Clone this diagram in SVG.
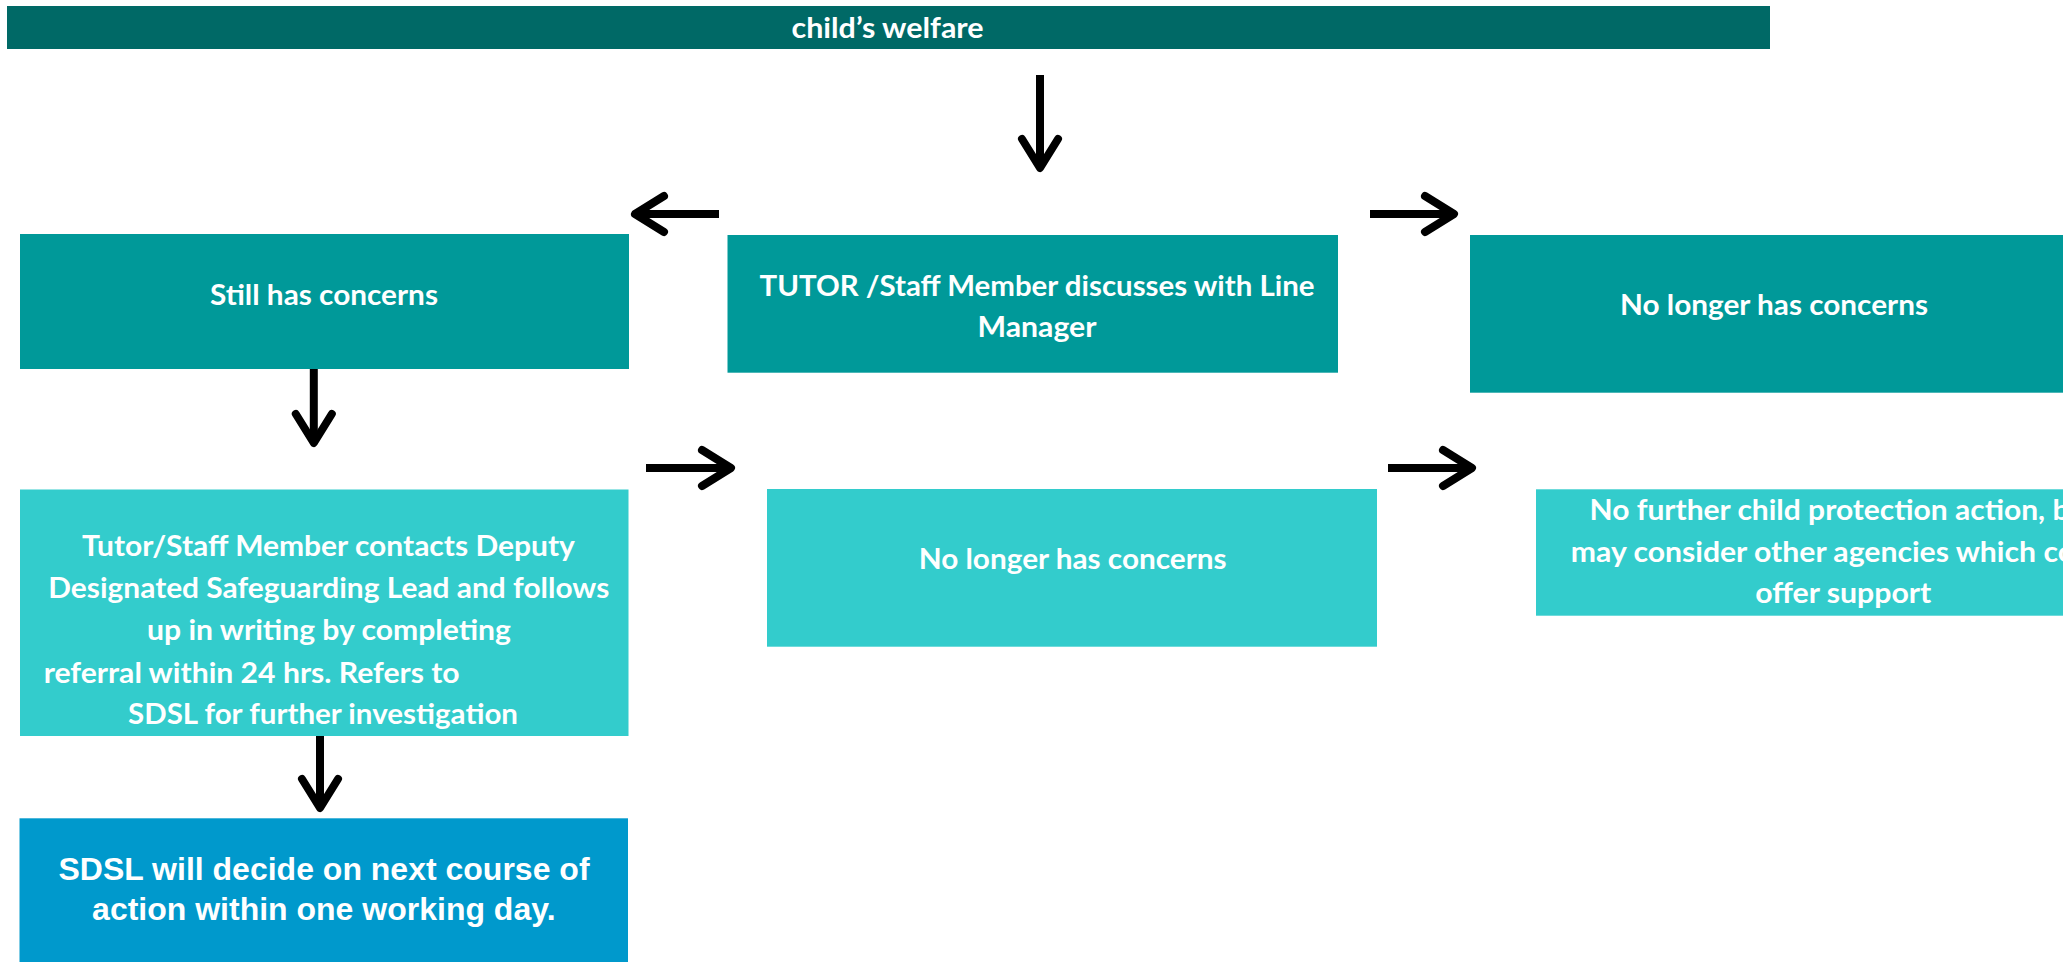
<svg xmlns="http://www.w3.org/2000/svg" width="2063" height="962" viewBox="0 0 2063 962">
  <style>
    .t { font-family: Lato, "Open Sans", sans-serif; font-weight: 700; font-size: 29px; fill: #ffffff; }
    .a { font-family: "Liberation Sans", Arial, sans-serif; font-weight: 700; font-size: 32px; fill: #ffffff; }
    .dark { fill: #006966; }
    .mid { fill: #009999; }
    .light { fill: #33CCCC; }
    .blue { fill: #0099CC; }
    .conn { stroke: #000000; stroke-width: 8; fill: none; }
  </style>
  <defs>
    <marker id="head" viewBox="-40 -26 48 52" markerWidth="48" markerHeight="52" refX="0" refY="0" orient="auto" markerUnits="userSpaceOnUse" overflow="visible">
      <path d="M -29 -18 L 0 0 L -29 18" fill="none" stroke="#000000" stroke-width="8" stroke-linecap="round" stroke-linejoin="round"/>
    </marker>
  </defs>
  <rect x="0" y="0" width="2063" height="962" fill="#ffffff"/>

  <g id="node-welfare">
    <rect class="dark" x="7" y="6" width="1763" height="43"/>
    <text class="t" x="887.5" y="37.8" text-anchor="middle" textLength="192" lengthAdjust="spacingAndGlyphs">child’s welfare</text>
  </g>

  <g id="node-discuss">
    <rect class="mid" x="727.5" y="235" width="610.5" height="137.7"/>
    <text class="t" x="1037" y="295.5" text-anchor="middle" textLength="555" lengthAdjust="spacingAndGlyphs">TUTOR /Staff Member discusses with Line</text>
    <text class="t" x="1037" y="337" text-anchor="middle" textLength="119" lengthAdjust="spacingAndGlyphs">Manager</text>
  </g>

  <g id="node-still">
    <rect class="mid" x="20" y="234" width="609" height="135"/>
    <text class="t" x="324" y="305" text-anchor="middle" textLength="228" lengthAdjust="spacingAndGlyphs">Still has concerns</text>
  </g>

  <g id="node-nolonger-top">
    <rect class="mid" x="1470" y="235" width="608" height="157.7"/>
    <text class="t" x="1774" y="315" text-anchor="middle" textLength="308" lengthAdjust="spacingAndGlyphs">No longer has concerns</text>
  </g>

  <g id="node-contact">
    <rect class="light" x="20" y="489.5" width="608.5" height="246.5"/>
    <text class="t" x="328.4" y="556" text-anchor="middle" textLength="493" lengthAdjust="spacingAndGlyphs">Tutor/Staff Member contacts Deputy</text>
    <text class="t" x="328.8" y="598" text-anchor="middle" textLength="561" lengthAdjust="spacingAndGlyphs">Designated Safeguarding Lead and follows</text>
    <text class="t" x="329" y="639.5" text-anchor="middle" textLength="364" lengthAdjust="spacingAndGlyphs">up in writing by completing</text>
    <text class="t" x="43.7" y="683" textLength="416" lengthAdjust="spacingAndGlyphs">referral within 24 hrs. Refers to</text>
    <text class="t" x="323" y="724" text-anchor="middle" textLength="390" lengthAdjust="spacingAndGlyphs">SDSL for further investigation</text>
  </g>

  <g id="node-nolonger-mid">
    <rect class="light" x="767" y="489" width="610" height="157.7"/>
    <text class="t" x="1072.7" y="568.5" text-anchor="middle" textLength="308" lengthAdjust="spacingAndGlyphs">No longer has concerns</text>
  </g>

  <g id="node-nofurther">
    <rect class="light" x="1536" y="489.3" width="614" height="126.4"/>
    <text class="t" x="1589.5" y="520" textLength="508" lengthAdjust="spacingAndGlyphs">No further child protection action, but</text>
    <text class="t" x="1570.8" y="562" textLength="545.8" lengthAdjust="spacingAndGlyphs">may consider other agencies which could</text>
    <text class="t" x="1843.3" y="603" text-anchor="middle" textLength="176" lengthAdjust="spacingAndGlyphs">offer support</text>
  </g>

  <g id="node-sdsl">
    <rect class="blue" x="19.5" y="818.3" width="608.5" height="143.7"/>
    <text class="a" x="324" y="880" text-anchor="middle">SDSL will decide on next course of</text>
    <text class="a" x="323.8" y="919.5" text-anchor="middle">action within one working day.</text>
  </g>

  <g id="connectors">
    <path class="conn" d="M 1040 75 L 1040 168" marker-end="url(#head)"/>
    <path class="conn" d="M 719 214 L 635 214" marker-end="url(#head)"/>
    <path class="conn" d="M 1370 214 L 1454 214" marker-end="url(#head)"/>
    <path class="conn" d="M 313.8 369 L 313.8 443" marker-end="url(#head)"/>
    <path class="conn" d="M 646 468 L 731 468" marker-end="url(#head)"/>
    <path class="conn" d="M 1388 468 L 1472 468" marker-end="url(#head)"/>
    <path class="conn" d="M 320 736 L 320 808" marker-end="url(#head)"/>
  </g>
</svg>
